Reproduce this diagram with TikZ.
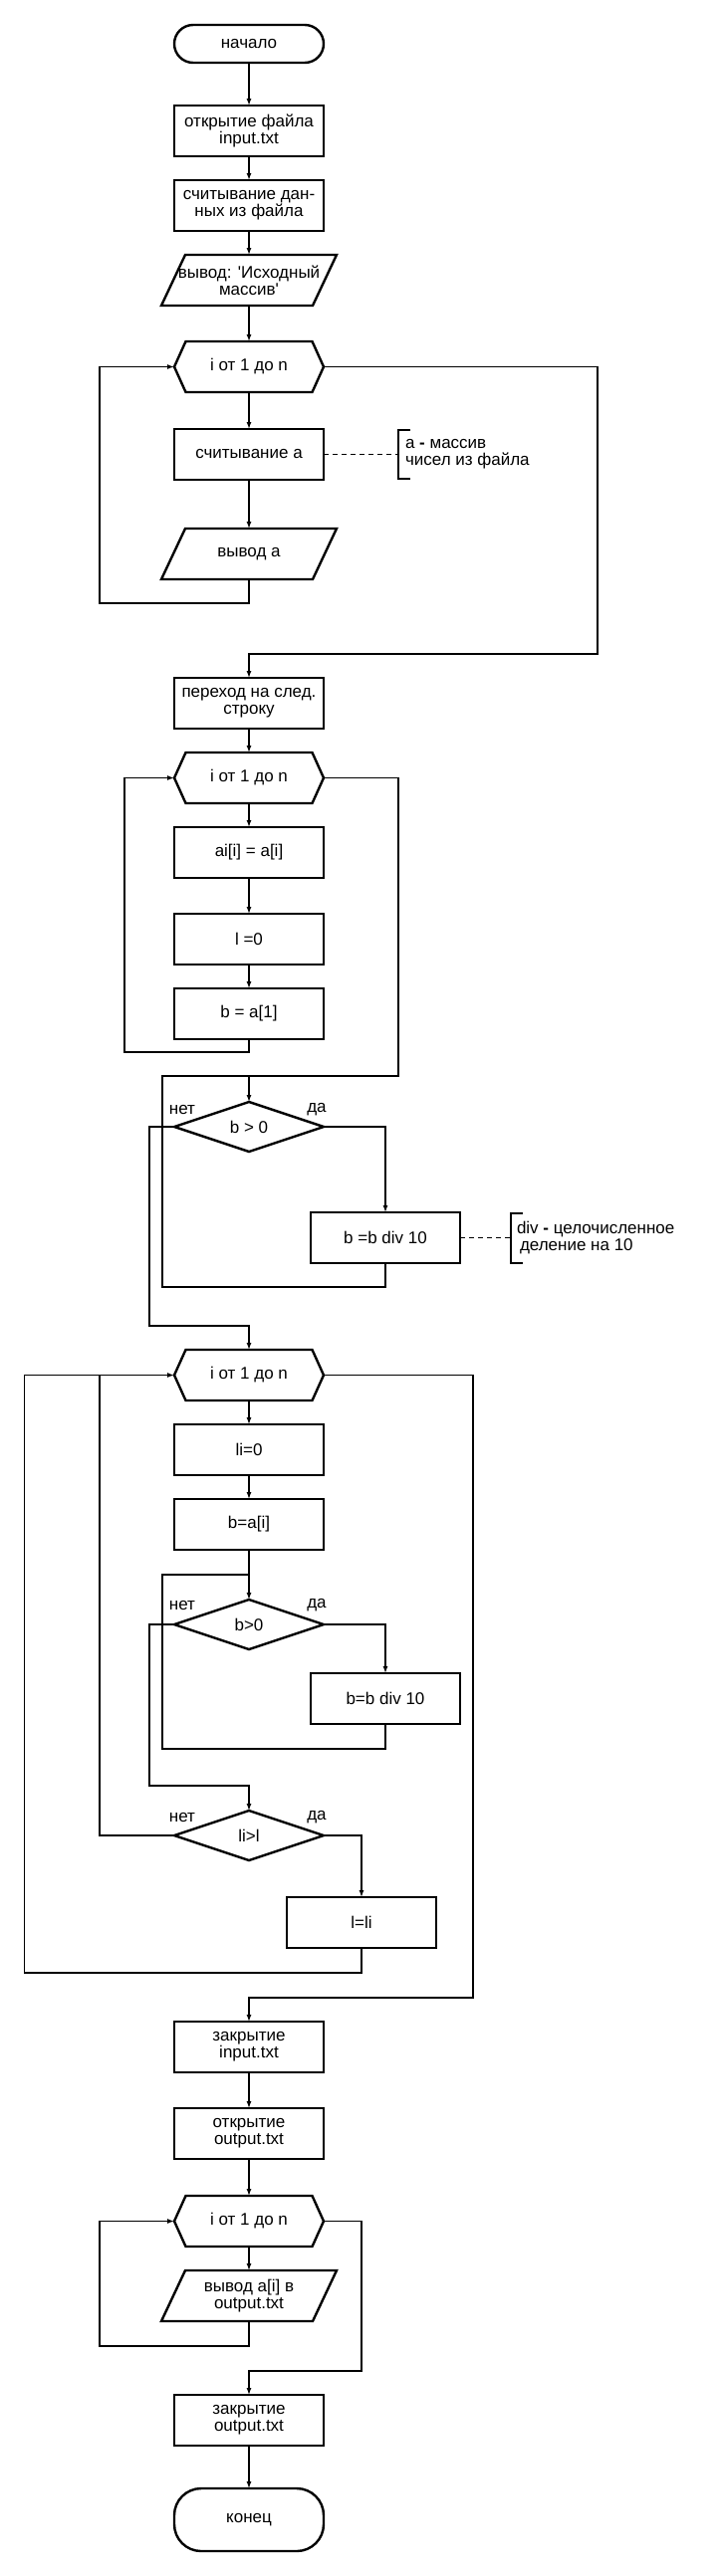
\documentclass[tikz,border=0pt]{standalone}
\usepackage{fontspec}
\setmainfont{Liberation Sans}
\usetikzlibrary{arrows.meta,calc}
\newcommand\mkhex[1]{\draw[shp] (#1.west) -- ($(#1.north west)+(11.5pt,0pt)$) -- ($(#1.north east)+(-11.5pt,0pt)$) -- (#1.east) -- ($(#1.south east)+(-11.5pt,0pt)$) -- ($(#1.south west)+(11.5pt,0pt)$) -- cycle;}
\newcommand\mkpar[1]{\draw[shp] ($(#1.north)+(-64pt,0pt)$) -- ($(#1.north)+(88pt,0pt)$) -- ($(#1.south)+(64pt,0pt)$) -- ($(#1.south)+(-88pt,0pt)$) -- cycle;}
\newcommand\mkdia[1]{\draw[shp] (#1.west) -- (#1.north) -- (#1.east) -- (#1.south) -- cycle;}
\begin{document}
\begin{tikzpicture}[x=1pt,y=-1pt,
  every node/.style={font=\fontsize{17}{17}\selectfont, inner sep=0pt, outer sep=0pt, align=center},
  shp/.style={line width=2.4pt, line join=miter},
  box/.style={draw, shp, minimum width=150pt, minimum height=51pt},
  ghost/.style={minimum width=150pt, minimum height=51pt},
  dghost/.style={minimum width=150pt, minimum height=50pt},
  term/.style={draw, shp, minimum width=150pt},
  conn/.style={line width=1.3pt},
  arr/.style={conn, -{Latex[length=7pt,width=5pt]}},
  note/.style={conn, dash pattern=on 5pt off 4pt},
  anno/.style={anchor=west, align=left}]
\path[use as bounding box, fill=white] (0,0) rectangle (725,2588);

% ---- nodes ----
\node[term, minimum height=38pt, rounded corners=19pt] (start) at (250,44) {начало};
\node[box] (open) at (250,131.5) {открытие файла\\input.txt};
\node[box] (read) at (250,206.5) {считывание дан-\\ных из файла};
\node[ghost] (out1) at (250,281.5) {вывод: \textquotesingle Исходный\\массив\textquotesingle}; \mkpar{out1}
\node[ghost] (h1) at (250,368.5) {i от 1 до n}; \mkhex{h1}
\node[box] (rda) at (250,456.5) {считывание а};
\node[ghost] (out2) at (250,556.5) {вывод а}; \mkpar{out2}
\node[box] (next) at (250,706.5) {переход на след.\\строку};
\node[ghost] (h2) at (250,781.5) {i от 1 до n}; \mkhex{h2}
\node[box] (ai) at (250,856.5) {ai[i] = a[i]};
\node[box] (l0) at (250,943.5) {l =0};
\node[box] (ba1) at (250,1018.5) {b = a[1]};
\node[dghost] (d1) at (250,1132) {b > 0}; \mkdia{d1}
\node[box] (bd1) at (387,1243.5) {b =b div 10};
\node[ghost] (h3) at (250,1381.5) {i от 1 до n}; \mkhex{h3}
\node[box] (li0) at (250,1456.5) {li=0};
\node[box] (bai) at (250,1531.5) {b=a[i]};
\node[dghost] (d2) at (250,1632) {b>0}; \mkdia{d2}
\node[box] (bd2) at (387,1706.5) {b=b div 10};
\node[dghost] (d3) at (250,1844) {li>l}; \mkdia{d3}
\node[box] (lli) at (363,1931.5) {l=li};
\node[box] (cin) at (250,2056.5) {закрытие\\input.txt};
\node[box] (oout) at (250,2143.5) {открытие\\output.txt};
\node[ghost] (h4) at (250,2231.5) {i от 1 до n}; \mkhex{h4}
\node[ghost] (p4) at (250,2306.5) {вывод a[i] в\\output.txt}; \mkpar{p4}
\node[box] (cout) at (250,2431.5) {закрытие\\output.txt};
\node[term, minimum height=63pt, rounded corners=27pt] (end) at (250,2531.5) {конец};

% labels
\node (d1n) at (183,1115) {нет};
\node (d1y) at (318,1115) {да};
\node (d2n) at (183,1613) {нет};
\node (d2y) at (318,1613) {да};
\node (d3n) at (183,1826) {нет};
\node (d3y) at (318,1826) {да};

% annotations
\node[anno] (a1) at (407,456.5) {а \textbf{-} массив\\чисел из файла};
\coordinate (br1) at (400,456.5);
\draw[conn] (412,432) -- (400,432) -- (400,481) -- (412,481);
\draw[note] (rda.east) -- (br1);
\node[anno] (a2) at (519,1243.5) {div \textbf{-} целочисленное\\\hspace{3pt}деление на 10};
\coordinate (br2) at (513,1243.5);
\draw[conn] (525,1219) -- (513,1219) -- (513,1269) -- (525,1269);
\draw[note] (bd1.east) -- (br2);

% ---- connectors ----
\draw[arr] (start.south) -- (open.north);
\draw[arr] (open.south) -- (read.north);
\draw[arr] (read.south) -- (out1.north);
\draw[arr] (out1.south) -- (h1.north);
\draw[arr] (h1.south) -- (rda.north);
\draw[arr] (rda.south) -- (out2.north);
\coordinate (l1) at (100,606);
\draw[arr] (out2.south) |- (l1) |- (h1.west);
\coordinate (e1) at (600,657);
\draw[arr] (h1.east) -| (e1) -| (next.north);

\draw[arr] (next.south) -- (h2.north);
\draw[arr] (h2.south) -- (ai.north);
\draw[arr] (ai.south) -- (l0.north);
\draw[arr] (l0.south) -- (ba1.north);
\coordinate (l2) at (125,1057);
\draw[arr] (ba1.south) |- (l2) |- (h2.west);
\coordinate (e2) at (400,1081);
\draw[arr] (h2.east) -| (e2) -| (d1.north);
\coordinate (j1) at (250,1081);
\coordinate (w1) at (163,1293);
\draw[conn] (bd1.south) |- (w1) |- (j1);
\draw[arr] (d1.east) -| (bd1.north);
\coordinate (n1) at (150,1332);
\draw[arr] (d1.west) -| (n1) -| (h3.north);

\draw[arr] (h3.south) -- (li0.north);
\draw[arr] (li0.south) -- (bai.north);
\draw[arr] (bai.south) -- (d2.north);
\coordinate (j2) at (250,1582);
\coordinate (w2) at (163,1757);
\draw[conn] (bd2.south) |- (w2) |- (j2);
\draw[arr] (d2.east) -| (bd2.north);
\coordinate (n2) at (150,1794);
\draw[arr] (d2.west) -| (n2) -| (d3.north);
\draw[arr] (d3.east) -| (lli.north);
\coordinate (n3) at (100,1381.5);
\draw[conn] (d3.west) -| (n3);
\coordinate (o3) at (24.5,1982);
\draw[arr] (lli.south) |- (o3) |- (h3.west);
\coordinate (e3) at (475,2007);
\draw[arr] (h3.east) -| (e3) -| (cin.north);

\draw[arr] (cin.south) -- (oout.north);
\draw[arr] (oout.south) -- (h4.north);
\draw[arr] (h4.south) -- (p4.north);
\coordinate (l4) at (100,2357);
\draw[arr] (p4.south) |- (l4) |- (h4.west);
\coordinate (e4) at (363,2382);
\draw[arr] (h4.east) -| (e4) -| (cout.north);
\draw[arr] (cout.south) -- (end.north);
\end{tikzpicture}
\end{document}
